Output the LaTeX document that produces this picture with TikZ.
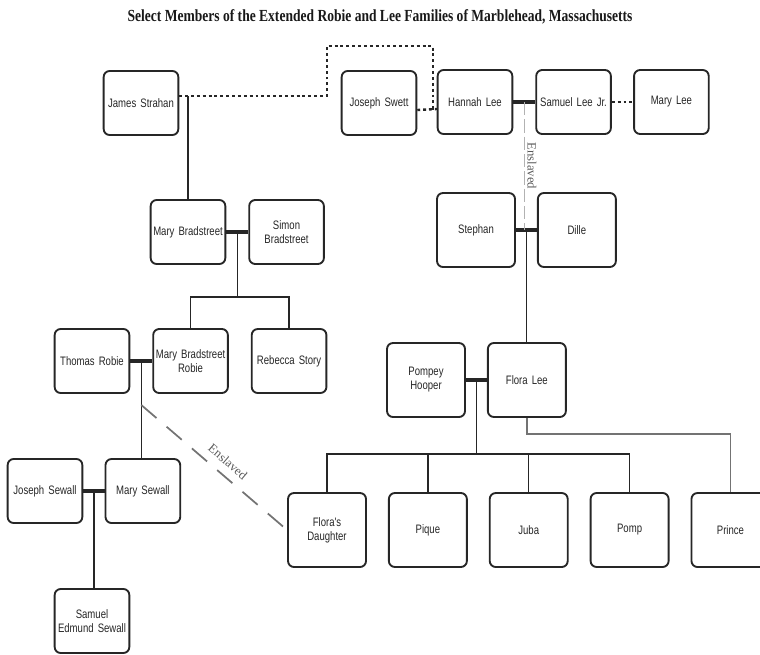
\documentclass[tikz,border=0pt]{standalone}
\usepackage{fontspec}
\newfontfamily\personfont[FakeStretch=0.78, WordSpace=0.8]{Liberation Sans}
\newfontfamily\titlefont[FakeStretch=0.8]{Liberation Serif}
\newfontfamily\notefont{Liberation Serif}
\usetikzlibrary{calc}
\usetikzlibrary{positioning}

\tikzset{
    person/.style={rectangle, rounded corners=4.5pt, draw=black!85, line width=1.4pt, minimum width=55.5pt, minimum height=48pt, text width=56pt, align=center, inner sep=0pt, text=black!85, font=\personfont\fontsize{9.2pt}{10.5pt}\selectfont},
    tall/.style={minimum width=58.5pt, minimum height=55.5pt},
    wed/.style={line width=3pt, black!85},
    kin/.style={line width=1.1pt, black!85},
    past/.style={line width=1.8pt, black!85, dash pattern=on 2.2pt off 2.2pt},
    bond/.style={line width=0.8pt, black!30, dash pattern=on 10pt off 3pt},
    thrall/.style={line width=1.3pt, black!55, dash pattern=on 15pt off 10pt},
    later/.style={line width=1.1pt, black!55},
    note/.style={font=\notefont\fontsize{9.5pt}{10pt}\selectfont, text=black!65, inner sep=2pt}
}

\begin{document}
\begin{tikzpicture}[x=0.75pt, y=-0.75pt]
    \useasboundingbox (0,0) rectangle (760,654);
    \node[font=\titlefont\bfseries\fontsize{12.7pt}{14pt}\selectfont, text=black!90] (title) at (380,17) {Select Members of the Extended Robie and Lee Families of Marblehead, Massachusetts};

    % top row
    \node[person] (strahan) at (141,103) {James Strahan};
    \node[person] (swett) at (379,103) {Joseph Swett};
    \node[person] (hannah) at (475,102) {Hannah Lee};
    \node[person, right=16.5pt of hannah] (samuel) {Samuel Lee Jr.};
    \node[person, right=16pt of samuel] (marylee) {Mary Lee};

    % second row
    \node[person] (marybrad) at (188,232) {Mary Bradstreet};
    \node[person, right=16.5pt of marybrad] (simon) {Simon\\Bradstreet};
    \node[person, tall] (stephan) at (476,230) {Stephan};
    \node[person, tall, right=15.75pt of stephan] (dille) {Dille};

    % third row
    \node[person] (thomas) at (92,361) {Thomas Robie};
    \node[person, right=16.5pt of thomas] (mbrobie) {Mary Bradstreet\\Robie};
    \node[person, right=16.5pt of mbrobie] (rebecca) {Rebecca Story};
    \node[person, tall] (pompey) at (426,380) {Pompey\\Hooper};
    \node[person, tall, right=15.75pt of pompey] (floralee) {Flora Lee};

    % fourth row
    \node[person] (joseph) at (45,491) {Joseph Sewall};
    \node[person, right=16pt of joseph] (marysewall) {Mary Sewall};
    \node[person, tall] (florasd) at (327,530) {Flora's\\Daughter};
    \node[person, tall, right=15.75pt of florasd] (pique) {Pique};
    \node[person, tall, right=15.75pt of pique] (juba) {Juba};
    \node[person, tall, right=15.75pt of juba] (pomp) {Pomp};
    \node[person, tall, right=15.75pt of pomp] (prince) {Prince};

    \node[person] (sesewall) at (92,621) {Samuel\\Edmund Sewall};

    % junctions
    \coordinate (sj) at ([yshift=5.25pt]strahan.east);
    \coordinate (hx) at ([xshift=-3pt,yshift=-5.25pt]hannah.west);
    \coordinate (hs) at ($(hannah.east)!0.5!(samuel.west)$);
    \coordinate (mb) at ($(marybrad.east)!0.5!(simon.west)$);
    \coordinate (sd) at ($(stephan.east)!0.5!(dille.west)$);
    \coordinate (tr) at ($(thomas.east)!0.5!(mbrobie.west)$);
    \coordinate (pf) at ($(pompey.east)!0.5!(floralee.west)$);
    \coordinate (js) at ($(joseph.east)!0.5!(marysewall.west)$);

    % marriages
    \draw[past] (sj) -| (327,46) -| (hx) -- ([yshift=-5.25pt]hannah.west);
    \draw[past] ([yshift=-5.25pt]swett.east) -- ([yshift=-5.25pt]hannah.west);
    \draw[past] (samuel) -- (marylee);
    \draw[wed] (hannah) -- (samuel);
    \draw[wed] (marybrad) -- (simon);
    \draw[wed] (stephan) -- (dille);
    \draw[wed] (thomas) -- (mbrobie);
    \draw[wed] (pompey) -- (floralee);
    \draw[wed] (joseph) -- (marysewall);

    % children
    \draw[kin] (sj -| marybrad.north) -- (marybrad.north);
    \draw[kin] (mb) -- ++(0,65) coordinate (mbbar);
    \draw[kin] (mbrobie.north) |- (mbbar) -| (rebecca.north);
    \draw[kin] (tr) -- (tr |- marysewall.north);
    \draw[kin] (js) -- (js |- sesewall.north);
    \draw[kin] (sd) -- (sd |- floralee.north);
    \draw[kin] (pf) -- ++(0,74) coordinate (pfbar);
    \draw[kin] (florasd.north) |- (pfbar) -| (pomp.north);
    \foreach \kid in {pique, juba}
        \draw[kin] (\kid.north) -- (\kid.north |- pfbar);
    \draw[later] (floralee.south) -- ++(0,16) -| (prince.north);

    % enslaved
    \draw[bond] (hs) -- (hs |- sd) node[note, midway, sloped, above] {Enslaved};
    \draw[thrall] ($(tr)+(0,44)$) -- (florasd.west) node[note, midway, sloped, above=4pt, xshift=5pt] {Enslaved};
\end{tikzpicture}
\end{document}
